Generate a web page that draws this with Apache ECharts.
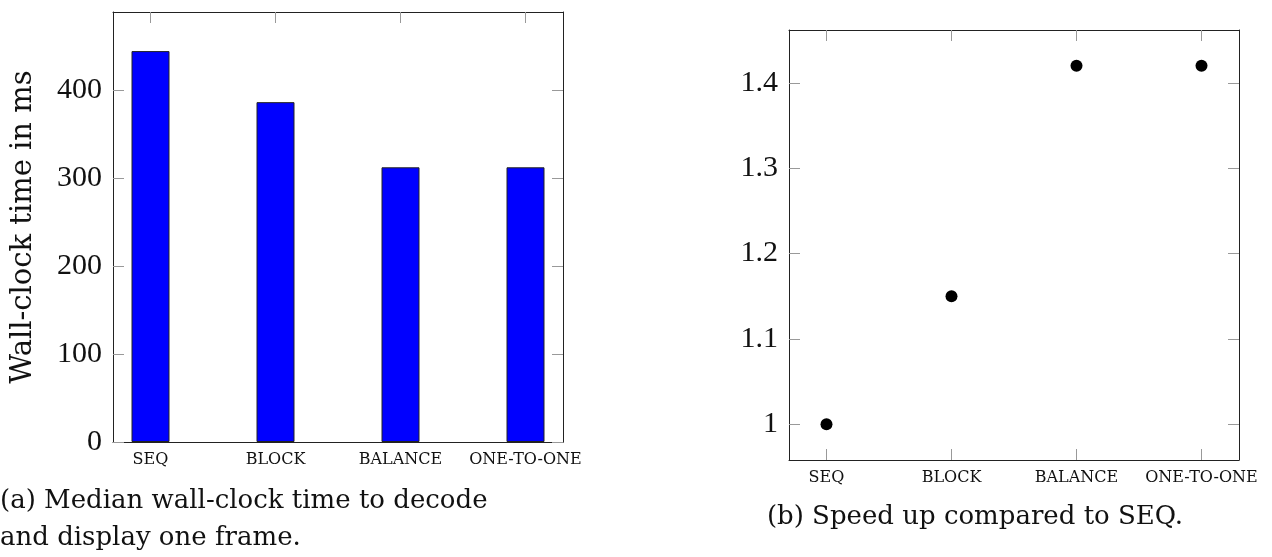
<!DOCTYPE html>
<html>
<head>
<meta charset="utf-8">
<script src="https://cdn.jsdelivr.net/npm/echarts@6/dist/echarts.min.js"></script>
<style>
  html, body { margin: 0; padding: 0; background: #fff; }
  #chart { width: 1272px; height: 557px; }
</style>
</head>
<body>
<div id="chart"></div>
<script>
// categories on both x axes
const categories = ['SEQ', 'BLOCK', 'BALANCE', 'ONE-TO-ONE']
// (a) median wall-clock time in ms
const wallClock = [444, 386, 312, 312]
// (b) speed up compared to SEQ
const speedUp = [1, 1.15, 1.42, 1.42]
// tick labels
const timeTicks = [0, 100, 200, 300, 400]
const speedTicks = [1, 1.1, 1.2, 1.3, 1.4]
const catTicks = [0, 1, 2, 3]

const NUM_FONT = 'Liberation Serif'
const TXT_FONT = 'DejaVu Serif'
const chart = echarts.init(document.getElementById('chart'))

function xAx(grid, pos, showLabel) {
  return {
    type: 'value',
    gridIndex: grid,
    position: pos,
    min: -0.3,
    max: 3.3,
    splitLine: { show: false },
    axisLine: { show: true, onZero: false, lineStyle: { color: '#222', width: 1 } },
    axisTick: {
      show: true,
      inside: true,
      length: 11,
      customValues: catTicks,
      lineStyle: { color: '#999' }
    },
    axisLabel: {
      show: showLabel,
      customValues: catTicks,
      margin: 10,
      color: '#111',
      fontFamily: TXT_FONT,
      fontSize: 16,
      formatter: v => categories[v]
    }
  }
}

function yAx(grid, pos, min, max, ticks, showLabel, name) {
  return {
    type: 'value',
    gridIndex: grid,
    position: pos,
    min,
    max,
    name: name || '',
    nameLocation: 'middle',
    nameGap: 75,
    nameTextStyle: { color: '#111', fontFamily: TXT_FONT, fontSize: 29 },
    splitLine: { show: false },
    axisLine: { show: true, onZero: false, lineStyle: { color: '#222', width: 1 } },
    axisTick: {
      show: true,
      inside: true,
      length: 11,
      customValues: ticks,
      lineStyle: { color: '#999' }
    },
    axisLabel: {
      show: showLabel,
      customValues: ticks,
      margin: 11,
      color: '#111',
      fontFamily: NUM_FONT,
      fontSize: 30
    }
  }
}

const option = {
  animation: false,
  backgroundColor: '#fff',
  grid: [
    { left: 113, top: 12, width: 450, height: 430 },
    { left: 789, top: 30, width: 450, height: 430 }
  ],
  xAxis: [
    xAx(0, 'bottom', true),
    xAx(0, 'top', false),
    xAx(1, 'bottom', true),
    xAx(1, 'top', false)
  ],
  yAxis: [
    yAx(0, 'left', 0, 488.4, timeTicks, true, 'Wall-clock time in ms'),
    yAx(0, 'right', 0, 488.4, timeTicks, false),
    yAx(1, 'left', 0.958, 1.462, speedTicks, true),
    yAx(1, 'right', 0.958, 1.462, speedTicks, false)
  ],
  series: [
    {
      type: 'bar',
      xAxisIndex: 0,
      yAxisIndex: 0,
      barWidth: 38,
      data: wallClock.map((v, i) => [i, v]),
      itemStyle: { color: '#0000ff', borderColor: '#222', borderWidth: 1 }
    },
    {
      type: 'scatter',
      xAxisIndex: 2,
      yAxisIndex: 2,
      symbol: 'circle',
      symbolSize: 12,
      data: speedUp.map((v, i) => [i, v]),
      itemStyle: { color: '#000', opacity: 1 }
    }
  ],
  // sub-figure captions
  graphic: [
    {
      type: 'text',
      left: 0,
      top: 483,
      style: {
        text: '(a) Median wall-clock time to decode\nand display one frame.',
        fontFamily: TXT_FONT,
        fontSize: 26,
        lineHeight: 37,
        fill: '#111'
      }
    },
    {
      type: 'text',
      x: 975,
      y: 517,
      style: {
        text: '(b) Speed up compared to SEQ.',
        fontFamily: TXT_FONT,
        fontSize: 26,
        fill: '#111',
        textAlign: 'center',
        textVerticalAlign: 'middle'
      }
    }
  ]
}

chart.setOption(option)
</script>
</body>
</html>
